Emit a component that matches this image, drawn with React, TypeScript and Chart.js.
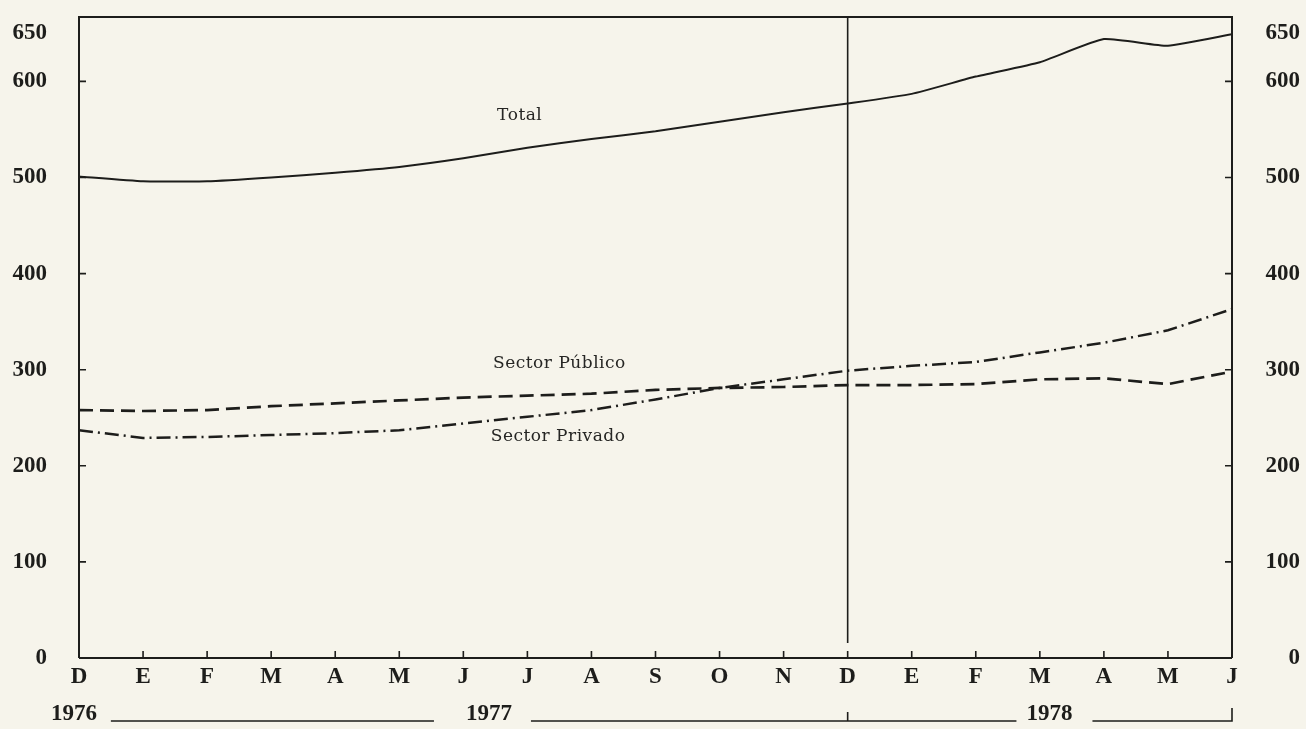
import React, { useEffect, useRef } from "react";
import { Chart, registerables } from "chart.js";

Chart.register(...registerables);

const months = ["D", "E", "F", "M", "A", "M", "J", "J", "A", "S", "O", "N", "D", "E", "F", "M", "A", "M", "J"];
const yearLabels = ["1976", "1977", "1978"];
const seriesNames = ["Total", "Sector Público", "Sector Privado"];
const totalValues = [501, 496, 496, 500, 505, 511, 520, 531, 540, 548, 558, 568, 577, 587, 605, 620, 644, 637, 649];
const publicoValues = [258, 257, 258, 262, 265, 268, 271, 273, 275, 279, 281, 282, 284, 284, 285, 290, 291, 285, 298];
const privadoValues = [237, 229, 230, 232, 234, 237, 244, 251, 258, 269, 281, 290, 299, 304, 308, 318, 328, 341, 363];
const yTickValues = [0, 100, 200, 300, 400, 500, 600, 650];
const yMin = 0;
const yMax = 667;

const INK = "#1d1d1b";
const PAPER = "#f6f4eb";
const TICK_FONT = { family: "'Liberation Serif', 'DejaVu Serif', serif", size: 23, weight: "bold" as const };

const framePlugin = {
  id: "frame",
  afterDatasetsDraw(chart: any) {
    const ctx = chart.ctx;
    const area = chart.chartArea;
    const x = chart.scales.x;
    const y = chart.scales.y;
    const px = (i: number) => {
      const a = x.getPixelForValue(0);
      const b = x.getPixelForValue(1);
      return a + (b - a) * i;
    };
    ctx.save();
    ctx.strokeStyle = INK;
    ctx.lineWidth = 2;
    ctx.lineCap = "butt";
    ctx.beginPath();
    ctx.moveTo(area.left, area.bottom);
    ctx.lineTo(area.left, area.top);
    ctx.lineTo(area.right, area.top);
    ctx.lineTo(area.right, area.bottom);
    ctx.moveTo(area.left, area.bottom);
    ctx.lineTo(area.right, area.bottom);
    ctx.stroke();

    // vertical divider at D 1977
    ctx.lineWidth = 1.6;
    ctx.beginPath();
    ctx.moveTo(px(12), area.top);
    ctx.lineTo(px(12), area.bottom - 15);
    ctx.stroke();

    // tick marks
    ctx.lineWidth = 1.6;
    ctx.beginPath();
    for (const v of yTickValues) {
      if (v <= 0 || v >= 650) continue;
      const yy = y.getPixelForValue(v);
      ctx.moveTo(area.left, yy);
      ctx.lineTo(area.left + 7, yy);
      ctx.moveTo(area.right, yy);
      ctx.lineTo(area.right - 7, yy);
    }
    for (let i = 1; i < months.length - 1; i++) {
      const xx = px(i);
      ctx.moveTo(xx, area.bottom);
      ctx.lineTo(xx, area.bottom - 7);
    }
    ctx.stroke();

    // year row
    const yearY = area.bottom + 56;
    const lineY = area.bottom + 63;
    ctx.fillStyle = INK;
    ctx.font = "bold 23px 'Liberation Serif', 'DejaVu Serif', serif";
    ctx.textAlign = "center";
    ctx.textBaseline = "middle";
    const c1976 = px(-0.08);
    const c1977 = px(6.4);
    const c1978 = px(15.15);
    ctx.fillText(yearLabels[0], c1976, yearY);
    ctx.fillText(yearLabels[1], c1977, yearY);
    ctx.fillText(yearLabels[2], c1978, yearY);
    const half = 25;
    ctx.lineWidth = 1.6;
    ctx.beginPath();
    ctx.moveTo(c1976 + half + 12, lineY);
    ctx.lineTo(c1977 - half - 30, lineY);
    ctx.moveTo(c1977 + half + 17, lineY);
    ctx.lineTo(c1978 - half - 8, lineY);
    ctx.moveTo(px(12), lineY);
    ctx.lineTo(px(12), lineY - 9);
    ctx.moveTo(c1978 + half + 18, lineY);
    ctx.lineTo(px(18), lineY);
    ctx.lineTo(px(18), lineY - 13);
    ctx.stroke();

    // series labels
    ctx.font = "17px 'DejaVu Serif', serif";
    try { (ctx as any).letterSpacing = "0.5px"; } catch (e) {}
    ctx.textAlign = "center";
    ctx.fillStyle = "#262624";
    ctx.fillText(seriesNames[0], px(6.88), y.getPixelForValue(564));
    ctx.fillText(seriesNames[1], px(7.5), y.getPixelForValue(306));
    ctx.fillText(seriesNames[2], px(7.48), y.getPixelForValue(230));
    ctx.restore();
  },
};

export default function App() {
  const ref = useRef<HTMLCanvasElement | null>(null);
  useEffect(() => {
    if (!ref.current) return;
    const setTicks = (scale: any) => {
      scale.ticks = yTickValues.map((v) => ({ value: v }));
    };
    const chart = new Chart(ref.current, {
      type: "line",
      data: {
        labels: months,
        datasets: [
          {
            label: seriesNames[0],
            data: totalValues,
            borderColor: INK,
            borderWidth: 2,
            pointRadius: 0,
            tension: 0.15,
            fill: false,
          },
          {
            label: seriesNames[1],
            data: publicoValues,
            borderColor: INK,
            borderWidth: 2.7,
            borderDash: [14, 7],
            pointRadius: 0,
            tension: 0,
            fill: false,
          },
          {
            label: seriesNames[2],
            data: privadoValues,
            borderColor: INK,
            borderWidth: 2.5,
            borderDash: [14, 5, 2, 5],
            pointRadius: 0,
            tension: 0,
            fill: false,
          },
        ],
      },
      options: {
        animation: false,
        responsive: false,
        devicePixelRatio: 1,
        layout: { padding: { left: 0, right: 6, top: 17, bottom: 0 } },
        plugins: { legend: { display: false }, tooltip: { enabled: false }, title: { display: false } },
        scales: {
          x: {
            type: "category",
            offset: false,
            grid: { display: false, drawTicks: false, offset: false },
            border: { display: false },
            ticks: { font: TICK_FONT, color: INK, padding: 5, maxRotation: 0, autoSkip: false },
            afterFit: (s: any) => { s.height = 71; s.paddingLeft = 0; s.paddingRight = 0; },
          },
          y: {
            position: "left",
            min: yMin,
            max: yMax,
            grid: { display: false, drawTicks: false },
            border: { display: false },
            afterBuildTicks: setTicks,
            ticks: { font: TICK_FONT, color: INK, padding: 32 },
            afterFit: (s: any) => { s.width = 79; s.paddingTop = 0; s.paddingBottom = 0; },
          },
          y2: {
            position: "right",
            min: yMin,
            max: yMax,
            grid: { display: false, drawTicks: false },
            border: { display: false },
            afterBuildTicks: setTicks,
            ticks: { font: TICK_FONT, color: INK, crossAlign: "far", padding: 0 },
            afterFit: (s: any) => { s.width = 68; s.paddingTop = 0; s.paddingBottom = 0; },
          },
        },
      },
      plugins: [framePlugin],
    } as any);
    return () => chart.destroy();
  }, []);
  return (
    <div style={{ position: "fixed", left: 0, top: 0, width: 1306, height: 729, background: PAPER }}>
      <canvas ref={ref} width={1306} height={729} style={{ display: "block", width: 1306, height: 729 }} />
    </div>
  );
}
